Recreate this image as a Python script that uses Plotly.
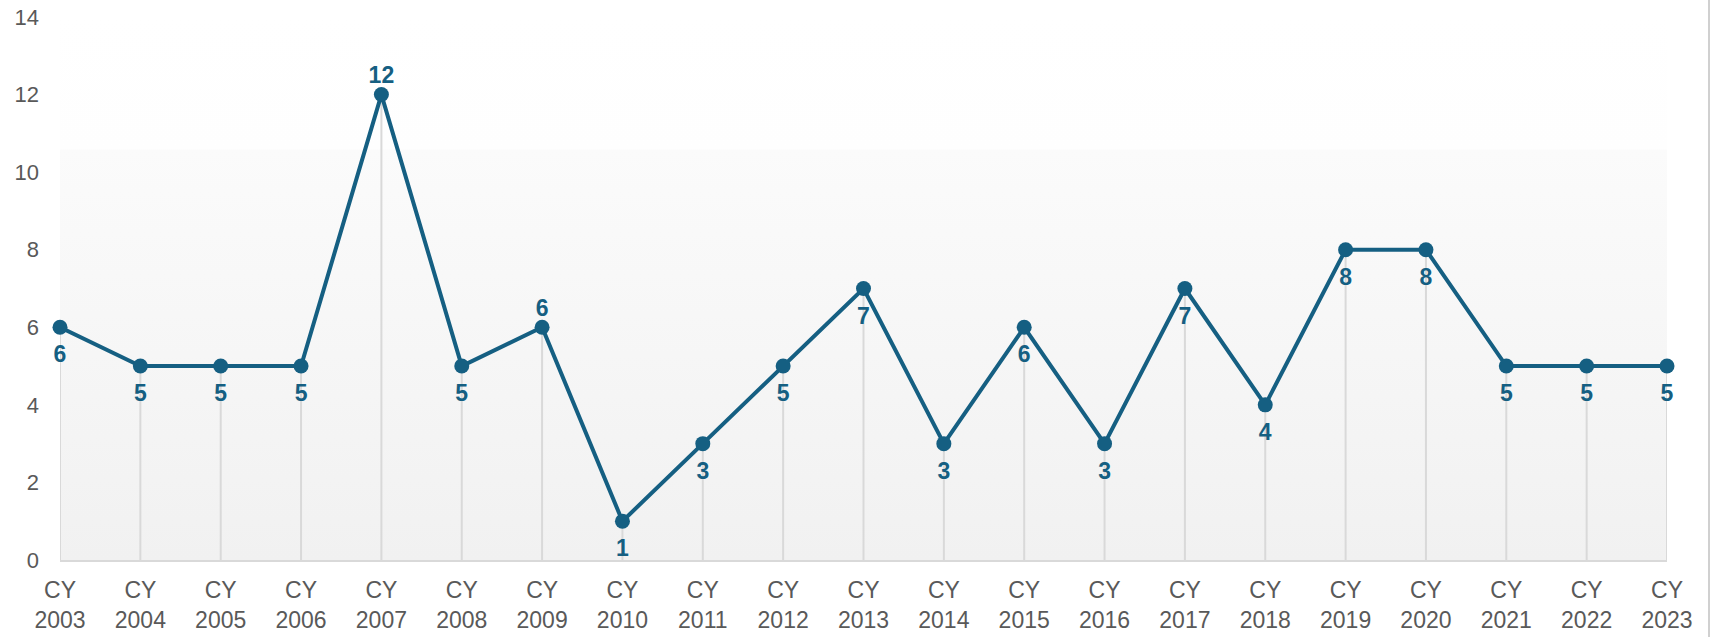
import plotly.graph_objects as go

years = [str(y) for y in range(2003, 2024)]
categories = ["CY<br>" + y for y in years]
values = [6, 5, 5, 5, 12, 5, 6, 1, 3, 5, 7, 3, 6, 3, 7, 4, 8, 8, 5, 5, 5]
label_above = ["2007", "2009"]
y_max = 14
y_ticks = [0, 2, 4, 6, 8, 10, 12, 14]

LINE = "#155f82"
GRAY_TXT = "#595959"
DROP = "#d9d9d9"
FONT = "Liberation Sans, Arial, sans-serif"

is_above = [y in label_above for y in years]
textpos = ["top center" if a else "bottom center" for a in is_above]
text_pad = [8 if a else 27 for a in is_above]

fig = go.Figure()

# background gradient panel
fig.add_trace(go.Scatter(
    x=categories, y=[y_max] * len(categories),
    mode="lines", line=dict(width=0), fill="tozeroy",
    fillgradient=dict(type="vertical", start=0, stop=y_max,
                      colorscale=[[0, "#f1f1f1"], [0.755, "#fbfbfb"],
                                  [0.757, "#fefefe"], [1, "#ffffff"]]),
    hoverinfo="skip", showlegend=False))

# drop lines
fig.add_trace(go.Scatter(
    x=categories, y=values, mode="markers", marker=dict(size=0.1, opacity=0),
    error_y=dict(type="data", symmetric=False, array=[0] * len(values),
                 arrayminus=values, color=DROP, thickness=2, width=0),
    hoverinfo="skip", showlegend=False, cliponaxis=False))

fig.add_trace(go.Scatter(
    x=categories, y=values, mode="lines+markers",
    line=dict(color=LINE, width=4),
    marker=dict(color=LINE, size=15),
    cliponaxis=False, showlegend=False))

# data labels
fig.add_trace(go.Scatter(
    x=categories, y=values, mode="markers+text",
    marker=dict(size=text_pad, opacity=0),
    text=[str(v) for v in values], textposition=textpos,
    textfont=dict(family=FONT, size=23, color=LINE, weight="bold"),
    hoverinfo="skip", cliponaxis=False, showlegend=False))

fig.update_layout(
    width=1711, height=637,
    margin=dict(l=60, r=44, t=17, b=77),
    paper_bgcolor="white", plot_bgcolor="white",
    font=dict(family=FONT, size=23, color=GRAY_TXT),
    xaxis=dict(type="category", categoryorder="array", categoryarray=categories,
               range=[0, len(categories) - 1], showgrid=False, automargin=False,
               showline=True, linecolor=DROP, linewidth=2, zeroline=False,
               ticks="", ticklabelstandoff=8, tickfont=dict(size=23, color=GRAY_TXT)),
    yaxis=dict(range=[0, y_max], tickvals=y_ticks, showgrid=False, zeroline=False,
               showline=False, ticks="", ticklabelstandoff=20, automargin=False,
               tickfont=dict(size=22, color=GRAY_TXT)),
    shapes=[dict(type="line", xref="paper", yref="paper",
                 x0=(1709 - 60) / (1711 - 60 - 44), x1=(1709 - 60) / (1711 - 60 - 44),
                 y0=-77 / (637 - 17 - 77), y1=1 + 17 / (637 - 17 - 77),
                 line=dict(color="#d0d0d0", width=2))],
)

fig.write_html("out.html")
